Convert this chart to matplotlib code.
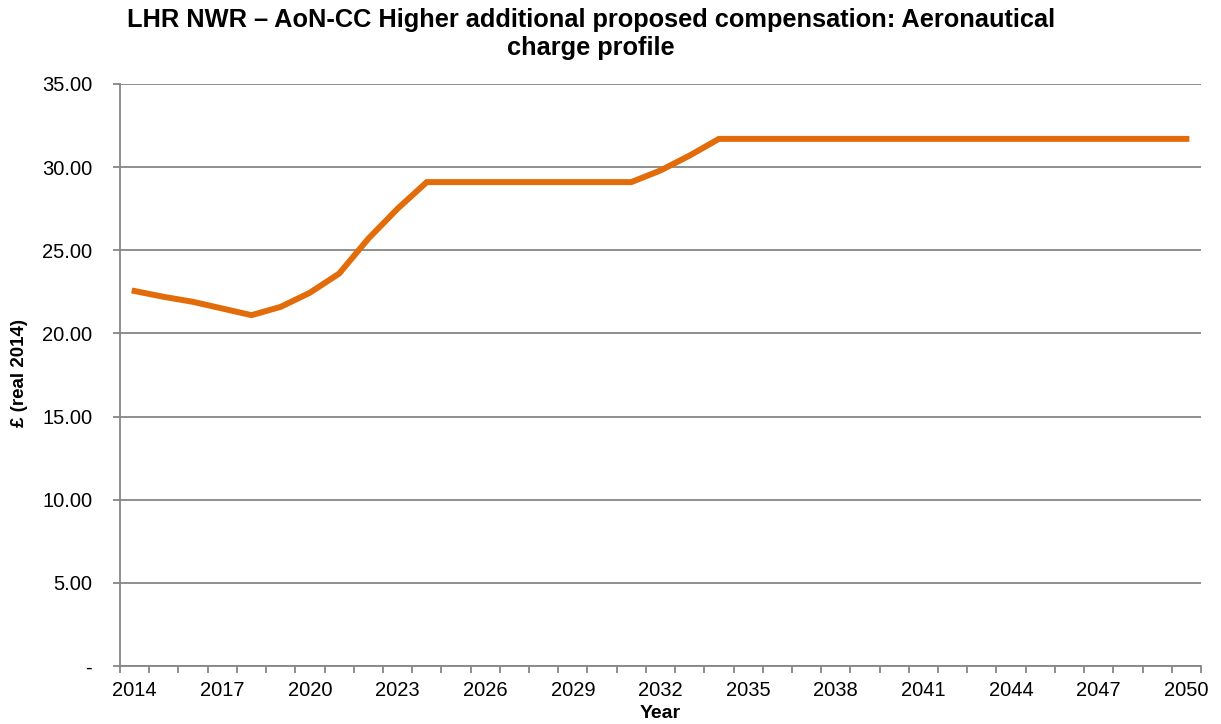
import matplotlib
matplotlib.use("Agg")
import matplotlib.pyplot as plt
import numpy as np

plt.rcParams['font.family'] = ['Liberation Sans', 'DejaVu Sans']

# aeronautical charge, £ real 2014, one value per year
years = list(range(2014, 2051))
charge = [22.55, 22.2, 21.9, 21.5, 21.1, 21.6, 22.45, 23.6, 25.7, 27.5,
          29.1, 29.1, 29.1, 29.1, 29.1, 29.1, 29.1, 29.1, 29.8, 30.7,
          31.7, 31.7, 31.7, 31.7, 31.7, 31.7, 31.7, 31.7, 31.7, 31.7,
          31.7, 31.7, 31.7, 31.7, 31.7, 31.7, 31.7]
label_years = list(range(2014, 2051, 3))
y_ticks = [0, 5, 10, 15, 20, 25, 30, 35]
y_labels = ['-', '5.00', '10.00', '15.00', '20.00', '25.00', '30.00', '35.00']

grey = '#868686'

fig = plt.figure(figsize=(12.21, 7.24), dpi=100)
ax = fig.add_axes([0.0983, 0.080, 0.8853, 0.804])

ax.plot(years, charge, color='#E26B0A', linewidth=4.3, solid_joinstyle='miter')

ax.set_xlim(2013.5, 2050.5)
ax.set_ylim(0, 35)

ax.set_yticks(y_ticks)
ax.set_yticklabels(y_labels, fontsize=14.5)
ax.yaxis.grid(True, color=grey, linewidth=1.3)
ax.set_axisbelow(True)

ax.set_xticks(label_years)
ax.set_xticklabels([str(y) for y in label_years], fontsize=14.5)
ax.set_xticks(np.arange(2013.5, 2051, 1), minor=True)
ax.tick_params(axis='x', which='major', length=0, pad=11)
ax.tick_params(axis='x', which='minor', length=5, color=grey, width=1.3)
ax.tick_params(axis='y', length=5, color=grey, width=1.3, pad=15)

for s in ['top', 'right']:
    ax.spines[s].set_visible(False)
for s in ['left', 'bottom']:
    ax.spines[s].set_color(grey)
    ax.spines[s].set_linewidth(1.3)

fig.text(0.484, 0.989, 'LHR NWR – AoN-CC Higher additional proposed compensation: Aeronautical\ncharge profile',
         ha='center', va='top', fontsize=18.3, fontweight='bold', linespacing=1.2)
fig.text(0.016, 0.485, '£ (real 2014)', rotation=90, ha='center', va='center',
         fontsize=13.5, fontweight='bold')
fig.text(0.541, 0.015, 'Year', ha='center', va='center', fontsize=14, fontweight='bold')

fig.savefig('out.png', dpi=100)
